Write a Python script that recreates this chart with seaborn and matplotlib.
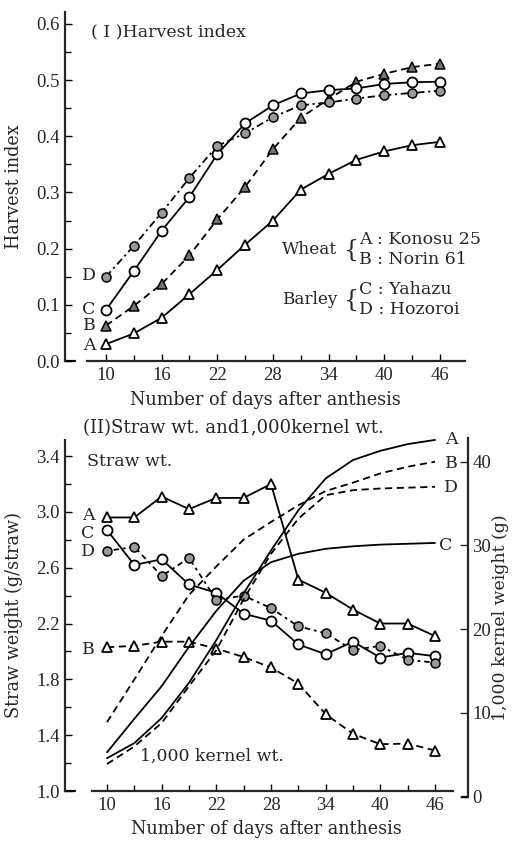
import numpy as np
import pandas as pd
import seaborn as sns
import matplotlib
matplotlib.use("Agg")
import matplotlib.pyplot as plt
from matplotlib.ticker import FixedLocator, MultipleLocator

sns.set_style("ticks")
plt.rcParams['font.family'] = ['Liberation Serif', 'DejaVu Serif']
TXT = ['DejaVu Serif', 'Liberation Serif']

# ---------------- data ----------------
days = [10, 13, 16, 19, 22, 25, 28, 31, 34, 37, 40, 43, 46]

# (I) Harvest index
hi_A = [0.030, 0.049, 0.077, 0.119, 0.162, 0.207, 0.250, 0.305, 0.333, 0.358, 0.373, 0.384, 0.390]
hi_B = [0.063, 0.098, 0.137, 0.188, 0.252, 0.310, 0.377, 0.433, 0.466, 0.497, 0.511, 0.523, 0.529]
hi_C = [0.091, 0.160, 0.232, 0.292, 0.368, 0.423, 0.455, 0.476, 0.482, 0.485, 0.493, 0.496, 0.497]
hi_D = [0.150, 0.205, 0.264, 0.326, 0.383, 0.405, 0.434, 0.455, 0.460, 0.467, 0.473, 0.477, 0.481]

# (II) Straw weight (g/straw)
sw_A = [2.96, 2.96, 3.11, 3.02, 3.10, 3.10, 3.20, 2.515, 2.42, 2.30, 2.20, 2.20, 2.11]
sw_B = [2.03, 2.04, 2.07, 2.07, 2.02, 1.96, 1.885, 1.77, 1.55, 1.41, 1.335, 1.34, 1.29]
sw_C = [2.87, 2.62, 2.66, 2.48, 2.42, 2.27, 2.22, 2.05, 1.98, 2.07, 1.956, 1.99, 1.966]
sw_D = [2.72, 2.75, 2.54, 2.67, 2.37, 2.40, 2.31, 2.18, 2.13, 2.01, 2.04, 1.94, 1.92]

# (II) 1,000 kernel weight (g)
kw_A = [4.6, 6.4, 9.4, 13.6, 18.7, 24.3, 29.4, 34.2, 38.0, 40.2, 41.3, 42.1, 42.6]
kw_B = [8.9, 14.0, 19.2, 24.1, 27.5, 30.7, 32.8, 34.8, 36.5, 37.5, 38.6, 39.4, 40.0]
kw_C = [5.3, 9.3, 13.2, 17.9, 22.2, 25.8, 28.0, 29.0, 29.6, 29.9, 30.1, 30.2, 30.3]
kw_D = [3.9, 6.0, 8.8, 13.2, 17.5, 23.6, 29.0, 33.2, 36.0, 36.6, 36.8, 36.9, 37.0]

# ---------------- figure ----------------
W, H = 514, 843
fig = plt.figure(figsize=(W / 100, H / 100), dpi=100)
fig.patch.set_facecolor('white')


def frac_box(x0, y0, x1, y1):
    return [x0 / W, 1 - y1 / H, (x1 - x0) / W, (y1 - y0) / H]


def ftext(x, y, s, **kw):
    kw.setdefault('fontsize', 12.5)
    kw.setdefault('ha', 'left')
    kw.setdefault('va', 'center')
    kw.setdefault('family', TXT)
    fig.text(x / W, 1 - y / H, s, **kw)


LW = 1.3
MS = 6.5
solid = '-'
dash = (0, (4, 2.5))
dashdot = (0, (4, 2, 1.2, 2))
dotted = (0, (1.5, 2.2, 3, 2.2))

tri_open = dict(marker='^', markerfacecolor='white', markeredgecolor='black', markeredgewidth=1.3)
tri_gray = dict(marker='^', markerfacecolor='0.45', markeredgecolor='black', markeredgewidth=1.1)
circ_open = dict(marker='o', markerfacecolor='white', markeredgecolor='black', markeredgewidth=1.3)
circ_gray = dict(marker='o', markerfacecolor='0.6', markeredgecolor='black', markeredgewidth=1.1)


def series(ax, y, ls, mk=None, ms=MS):
    kw = dict(color='black', linewidth=LW, linestyle=ls, errorbar=None, ax=ax)
    if mk is not None:
        kw.update(mk)
        kw['markersize'] = ms
    sns.lineplot(x=days, y=y, **kw)


def style_ticks(ax):
    ax.tick_params(axis='both', which='both', direction='in', color='black', width=1.0,
                   labelsize=13.5, pad=4)
    ax.tick_params(which='major', length=5)
    ax.tick_params(which='minor', length=4)


LABFS = 12.7

# ---------- Panel I ----------
ax1 = fig.add_axes(frac_box(65, 12, 465, 361))
series(ax1, hi_A, solid, tri_open)
series(ax1, hi_B, dash, tri_gray)
series(ax1, hi_C, solid, circ_open, ms=7.2)
series(ax1, hi_D, dashdot, circ_gray)
ax1.set_xlim(5.58, 48.7)
ax1.set_ylim(0, 0.621)
for s in ['top', 'right']:
    ax1.spines[s].set_visible(False)
for s in ['left', 'bottom']:
    ax1.spines[s].set_linewidth(1.6)
ax1.spines['bottom'].set_bounds(8.0, 48.7)
ax1.plot([0, 0.025], [0, 0], transform=ax1.transAxes, color='black', lw=1.6, clip_on=False)
ax1.xaxis.set_major_locator(FixedLocator(days[::2]))
ax1.xaxis.set_minor_locator(FixedLocator(days[1::2]))
ax1.set_yticks(np.arange(0, 0.61, 0.1))
ax1.set_yticklabels(['0.0', '0.1', '0.2', '0.3', '0.4', '0.5', '0.6'])
ax1.yaxis.set_minor_locator(MultipleLocator(0.05))
style_ticks(ax1)
ax1.set_xlabel('Number of days after anthesis', fontsize=LABFS, family=TXT, labelpad=5)
ax1.set_ylabel('Harvest index', fontsize=LABFS, family=TXT, labelpad=9)

ftext(91, 32, '( I )Harvest index')
for lab, yy in [('D', 276), ('C', 309), ('B', 326), ('A', 345)]:
    ftext(89, yy, lab, ha='center')
ftext(282, 250, 'Wheat', fontsize=12.2)
ftext(350.5, 250, '{', fontsize=17, ha='center')
ftext(359, 240, 'A : Konosu 25')
ftext(359, 259, 'B : Norin 61')
ftext(282, 300, 'Barley', fontsize=12.2)
ftext(350.5, 300, '{', fontsize=17, ha='center')
ftext(359, 290, 'C : Yahazu')
ftext(359, 310, 'D : Hozoroi')

# ---------- Panel II ----------
ax2 = fig.add_axes(frac_box(65, 440, 468, 791))
series(ax2, sw_A, solid, tri_open)
series(ax2, sw_B, dash, tri_open)
series(ax2, sw_C, solid, circ_open, ms=7.2)
series(ax2, sw_D, dotted, circ_gray)
ax2.set_xlim(5.39, 49.62)
ax2.set_ylim(1.0, 3.515)
for s in ['top', 'right']:
    ax2.spines[s].set_visible(False)
for s in ['left', 'bottom']:
    ax2.spines[s].set_linewidth(1.6)
ax2.spines['bottom'].set_bounds(8.35, 48.0)
ax2.plot([0, 0.025], [0, 0], transform=ax2.transAxes, color='black', lw=1.6, clip_on=False)
ax2.xaxis.set_major_locator(FixedLocator(days[::2]))
ax2.xaxis.set_minor_locator(FixedLocator(days[1::2]))
ax2.set_yticks([1.0, 1.4, 1.8, 2.2, 2.6, 3.0, 3.4])
ax2.set_yticklabels(['1.0', '1.4', '1.8', '2.2', '2.6', '3.0', '3.4'])
ax2.yaxis.set_minor_locator(MultipleLocator(0.2))
style_ticks(ax2)
ax2.set_xlabel('Number of days after anthesis', fontsize=LABFS, family=TXT, labelpad=5)
ax2.set_ylabel('Straw weight (g/straw)', fontsize=LABFS, family=TXT, labelpad=9)

# right axis (1,000 kernel weight)
ax3 = fig.add_axes(frac_box(65, 438, 468, 796.7))
ax3.patch.set_alpha(0)
series(ax3, kw_A, solid)
series(ax3, kw_B, dash)
series(ax3, kw_C, solid)
series(ax3, kw_D, dash)
ax3.set_xlim(5.39, 49.62)
ax3.set_ylim(0, (796.7 - 438) / 8.375)
for s in ['top', 'left', 'bottom']:
    ax3.spines[s].set_visible(False)
ax3.spines['right'].set_linewidth(1.6)
ax3.plot([0.985, 1.0], [0, 0], transform=ax3.transAxes, color='black', lw=1.6, clip_on=False)
ax3.yaxis.set_label_position('right')
ax3.yaxis.tick_right()
ax3.set_xticks([])
ax3.set_yticks([0, 10, 20, 30, 40])
ax3.tick_params(axis='y', direction='in', length=6, width=1.0, labelsize=13.5, pad=3)
ax3.set_xlabel('')
ax3.set_ylabel('1,000 kernel weight (g)', fontsize=12.5, family=TXT, labelpad=1)

ftext(83, 428, '(II)Straw wt. and1,000kernel wt.', fontsize=13)
ftext(87, 462, 'Straw wt.')
ftext(140, 756, '1,000 kernel wt.')
for lab, yy in [('A', 516), ('C', 533), ('D', 552), ('B', 649)]:
    ftext(88, yy, lab, ha='center')
for lab, xx, yy in [('A', 451, 440), ('B', 451, 464), ('D', 451, 488), ('C', 446, 546)]:
    ftext(xx, yy, lab, ha='center')

fig.savefig('out.png', dpi=100, facecolor='white')
